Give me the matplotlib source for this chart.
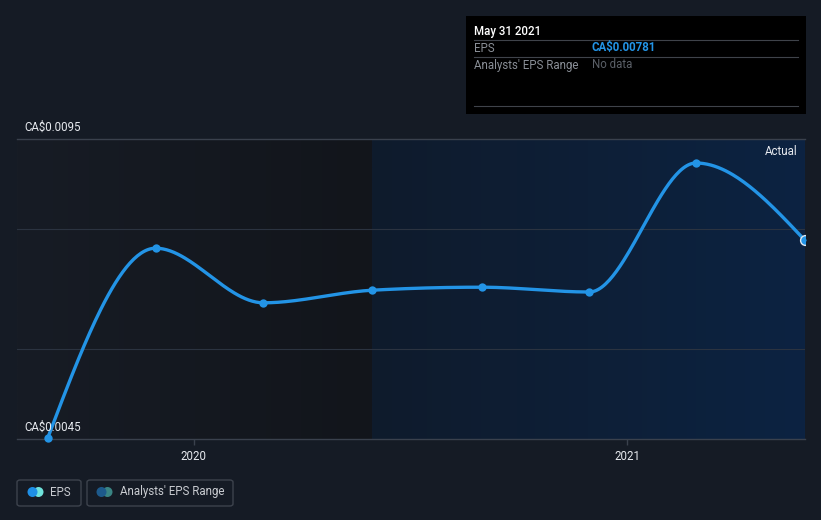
import numpy as np
import matplotlib
matplotlib.use("Agg")
import matplotlib.pyplot as plt
import matplotlib.dates as mdates
from matplotlib.patches import FancyBboxPatch, Rectangle, Ellipse
from matplotlib.colors import LinearSegmentedColormap
import datetime as dt

plt.rcParams['font.family'] = ['Roboto', 'DejaVu Sans']

# ---- data ----
dates = ["2019-08-31", "2019-11-30", "2020-02-29", "2020-05-31",
         "2020-08-31", "2020-11-30", "2021-02-28", "2021-05-31"]
eps = [0.00452, 0.00768, 0.00677, 0.00698, 0.00703, 0.00695, 0.00910, 0.00781]
y_ticks = [0.0045, 0.0095]
y_tick_labels = ["CA$0.0045", "CA$0.0095"]
grid_vals = [0.0060, 0.0080]
x_ticks = ["2020-01-01", "2021-01-01"]
x_tick_labels = ["2020", "2021"]
actual_start = "2020-05-31"

W, H = 821, 520
BG = "#151b25"
fig = plt.figure(figsize=(W / 100, H / 100), dpi=100, facecolor=BG)

px_l, px_r, px_t, px_b = 17, 805, 139, 439
ax = fig.add_axes([px_l / W, 1 - px_b / H, (px_r - px_l) / W, (px_b - px_t) / H])
ax.set_facecolor(BG)

xd = mdates.date2num([dt.date.fromisoformat(d) for d in dates])
yv = np.array(eps)
x0 = mdates.date2num(dt.date(2019, 8, 5))
x1 = xd[-1]
ymin, ymax = 0.0045, 0.0095

xa = mdates.date2num(dt.date.fromisoformat(actual_start))

# background gradients
gl = np.linspace(0, 1, 256)[None, :]
cm_left = LinearSegmentedColormap.from_list("l", ["#171c25", "#12151b"])
cm_right = LinearSegmentedColormap.from_list("r", ["#0f1b2c", "#0c2342"])
ax.imshow(gl, cmap=cm_left, extent=[x0, xa, ymin, ymax], aspect='auto', zorder=0)
ax.imshow(gl, cmap=cm_right, extent=[xa, x1, ymin, ymax], aspect='auto', zorder=0)
ax.set_xlim(x0, x1)
ax.set_ylim(ymin, ymax)

gridc = "#3a414d"
for g in grid_vals:
    ax.axhline(g, color="#2b3340", lw=0.8, zorder=1)
ax.axhline(ymax, color=gridc, lw=1.0, zorder=1, clip_on=False)

# monotone-x curve (d3 style) for the rendered line
def monotone_curve(x, y, n=60):
    x = np.asarray(x, float); y = np.asarray(y, float)
    h = np.diff(x); s = np.diff(y) / h
    m = np.zeros_like(y)
    for i in range(1, len(x) - 1):
        h0, h1 = h[i - 1], h[i]
        s0, s1 = s[i - 1], s[i]
        p = (s0 * h1 + s1 * h0) / (h0 + h1)
        m[i] = (np.sign(s0) + np.sign(s1)) * min(abs(s0), abs(s1), 0.5 * abs(p))
    m[0] = (3 * s[0] - m[1]) / 2
    m[-1] = (3 * s[-1] - m[-2]) / 2
    xs, ys = [], []
    for i in range(len(x) - 1):
        t = np.linspace(0, 1, n)
        hh = h[i]
        h00 = 2 * t**3 - 3 * t**2 + 1
        h10 = t**3 - 2 * t**2 + t
        h01 = -2 * t**3 + 3 * t**2
        h11 = t**3 - t**2
        xs.append(x[i] + t * hh)
        ys.append(h00 * y[i] + h10 * hh * m[i] + h01 * y[i + 1] + h11 * hh * m[i + 1])
    return np.concatenate(xs), np.concatenate(ys)

cx, cy = monotone_curve(xd, yv)
blue = "#2394e6"
ax.plot(cx, cy, color=blue, lw=2.4, zorder=3, solid_capstyle='round', clip_on=False)
ax.scatter(xd[:-1], yv[:-1], s=36, color=blue, zorder=4, clip_on=False, linewidths=0)
last = ax.scatter(xd[-1:], yv[-1:], s=50, color=blue, edgecolors="#dfe8f2",
                  linewidths=1.0, zorder=5)
last.set_clip_path(ax.patch)

# axes styling
for sp in ax.spines.values():
    sp.set_visible(False)
ax.spines['bottom'].set_visible(True)
ax.spines['bottom'].set_color(gridc)
ax.spines['bottom'].set_linewidth(1.0)
ax.set_yticks([])
xt = mdates.date2num([dt.date.fromisoformat(d) for d in x_ticks])
ax.set_xticks(xt)
ax.set_xticklabels(x_tick_labels, color="#e6e9ee", fontsize=8.3)
ax.tick_params(axis='x', length=4, width=1, color=gridc, pad=4)

# y labels
for v, lab in zip(y_ticks, y_tick_labels):
    ypx = px_t + (ymax - v) / (ymax - ymin) * (px_b - px_t)
    fig.text(24 / W, 1 - (ypx - 12) / H, lab, color="#e6e9ee", fontsize=8.3,
             ha='left', va='center')

# "Actual" label
fig.text(797 / W, 1 - 151 / H, "Actual", color="#e6e9ee", fontsize=8.3, ha='right', va='center')

# tooltip box
fig.patches.append(Rectangle((466 / W, 1 - 114 / H), 340 / W, 98 / H,
                             transform=fig.transFigure, facecolor="#000000",
                             edgecolor='none', zorder=10))
for yl in [40, 57, 106]:
    fig.add_artist(plt.Line2D([474 / W, 798 / W], [1 - yl / H, 1 - yl / H],
                              color="#3f434a", lw=0.8, zorder=11))
fig.text(474 / W, 1 - 31 / H, "May 31 2021", color="#ffffff", fontsize=8.3,
         fontweight='medium', ha='left', va='center', zorder=12)
fig.text(474 / W, 1 - 48 / H, "EPS", color="#8a8f97", fontsize=8.3, ha='left', va='center', zorder=12)
fig.text(592 / W, 1 - 48 / H, "CA$0.00781", color="#2394e6", fontsize=8.3,
         fontweight='bold', ha='left', va='center', zorder=12)
fig.text(474 / W, 1 - 65 / H, "Analysts' EPS Range", color="#8a8f97", fontsize=8.3,
         ha='left', va='center', zorder=12)
fig.text(592 / W, 1 - 65 / H, "No data", color="#5b6068", fontsize=8.3,
         ha='left', va='center', zorder=12)

# legend
def pill(xl, xr, yt, yb):
    p = FancyBboxPatch((xl / W, 1 - yb / H), (xr - xl) / W, (yb - yt) / H,
                       boxstyle="round,pad=0,rounding_size=0.004",
                       transform=fig.transFigure, facecolor='none',
                       edgecolor="#3d434d", lw=1.0)
    fig.patches.append(p)

def dot(xc, yc, r, color):
    fig.patches.append(Ellipse((xc / W, 1 - yc / H), 2 * r / W, 2 * r / H,
                               transform=fig.transFigure,
                               facecolor=color, edgecolor='none'))

pill(17, 81, 480, 506)
dot(38.5, 492, 5, "#6fe3dc")
dot(32.5, 492, 5, "#1e8fe6")
fig.text(50 / W, 1 - 492 / H, "EPS", color="#c9ccd1", fontsize=8.3, ha='left', va='center')

pill(87, 233, 480, 506)
dot(107.5, 492, 5, "#3a8584")
dot(101.5, 492, 5, "#1d5a8c")
fig.text(120 / W, 1 - 492 / H, "Analysts' EPS Range", color="#c9ccd1", fontsize=8.3,
         ha='left', va='center')

fig.savefig("out.png", dpi=100, facecolor=BG)
